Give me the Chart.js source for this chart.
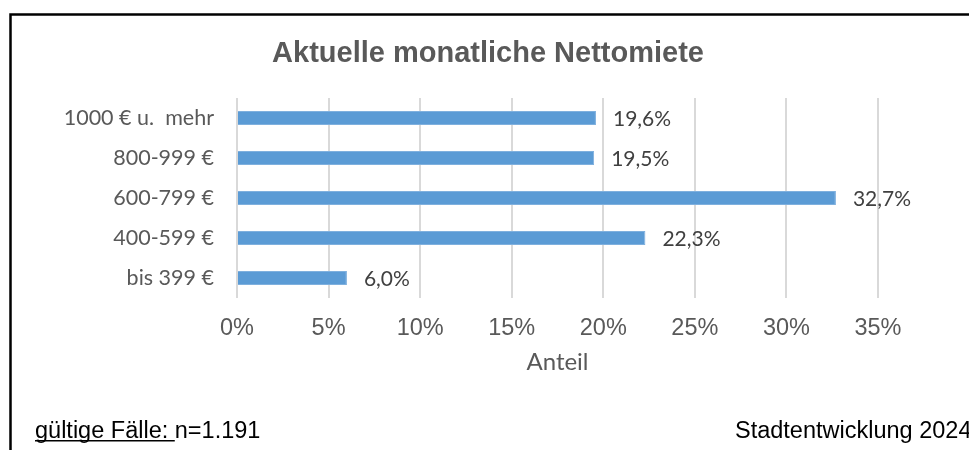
<!doctype html>
<html>
<head>
  <meta charset="utf-8">
  <script src="https://cdn.jsdelivr.net/npm/chart.js@4/dist/chart.umd.min.js"></script>
  <style>
    body { margin: 0; background: #fff; }
  </style>
</head>
<body>
  <canvas id="canvas" width="969" height="450"></canvas>
  <script>
    const chartTitle = 'Aktuelle monatliche Nettomiete';
    const categories = ['1000 € u.  mehr', '800-999 €', '600-799 €', '400-599 €', 'bis 399 €'];
    const shares = [19.6, 19.5, 32.7, 22.3, 6.0];
    const xTicks = [0, 5, 10, 15, 20, 25, 30, 35];

    // frame, title, value labels and footer lines
    const extras = {
      id: 'extras',
      beforeDraw(chart) {
        const ctx = chart.ctx;
        ctx.save();
        ctx.fillStyle = '#fff';
        ctx.fillRect(0, 0, chart.width, chart.height);
        ctx.strokeStyle = '#000';
        ctx.lineWidth = 2.5;
        ctx.strokeRect(10.5, 14.5, 2000, 2000);
        ctx.font = 'bold 29px "Liberation Sans", Arial';
        ctx.fillStyle = '#595959';
        ctx.textAlign = 'center';
        ctx.textBaseline = 'middle';
        ctx.fillText(chartTitle, 488, 54);
        ctx.restore();
      },
      afterDatasetsDraw(chart) {
        const ctx = chart.ctx;
        const meta = chart.getDatasetMeta(0);
        ctx.save();
        ctx.font = '21px Lato';
        ctx.fillStyle = '#404040';
        ctx.textAlign = 'left';
        ctx.textBaseline = 'middle';
        meta.data.forEach((bar, i) => {
          const txt = shares[i].toFixed(1).replace('.', ',') + '%';
          ctx.fillText(txt, bar.x + 17, bar.y + 1);
        });
        ctx.restore();
      },
      afterDraw(chart) {
        const ctx = chart.ctx;
        ctx.save();
        ctx.font = '23.5px "Liberation Sans", Arial';
        ctx.fillStyle = '#000';
        ctx.textBaseline = 'alphabetic';
        const lead = 'gültige Fälle: ';
        ctx.fillText(lead, 35, 438);
        const w = ctx.measureText(lead).width;
        ctx.fillRect(35, 440, w, 1.5);
        ctx.fillText('n=1.191', 35 + w, 438);
        ctx.fillText('Stadtentwicklung 2024', 735, 438);
        ctx.restore();
      }
    };

    new Chart(document.getElementById('canvas').getContext('2d'), {
      type: 'bar',
      data: {
        labels: categories,
        datasets: [{
          label: 'Anteil',
          data: shares,
          backgroundColor: '#5B9BD5',
          borderColor: '#7fb0de',
          borderWidth: 1,
          categoryPercentage: 0.7,
          barPercentage: 0.5
        }]
      },
      plugins: [extras],
      options: {
        indexAxis: 'y',
        responsive: false,
        animation: false,
        layout: { padding: { left: 0, right: 91, top: 98, bottom: 73 } },
        plugins: {
          legend: { display: false },
          tooltip: { enabled: false },
          title: { display: false }
        },
        scales: {
          x: {
            min: 0,
            max: 35,
            afterBuildTicks(scale) {
              scale.ticks = xTicks.map((v) => ({ value: v }));
            },
            afterFit(scale) { scale.height = 79; },
            border: { display: false },
            grid: { color: '#d9d9d9', lineWidth: 2, drawTicks: false },
            ticks: {
              padding: 16,
              color: '#595959',
              font: { family: '"Liberation Sans", Arial', size: 23.5 },
              callback: (v) => v + '%'
            },
            title: {
              display: true,
              text: 'Anteil',
              color: '#595959',
              font: { family: 'Lato', size: 24 },
              padding: { top: 9, bottom: 0 }
            }
          },
          y: {
            border: { display: false },
            grid: { display: false, drawTicks: false },
            afterFit(scale) { scale.width = 237; },
            ticks: {
              padding: 23,
              color: '#595959',
              font: { family: 'Lato', size: 21.5 }
            }
          }
        }
      }
    });
  </script>
</body>
</html>
